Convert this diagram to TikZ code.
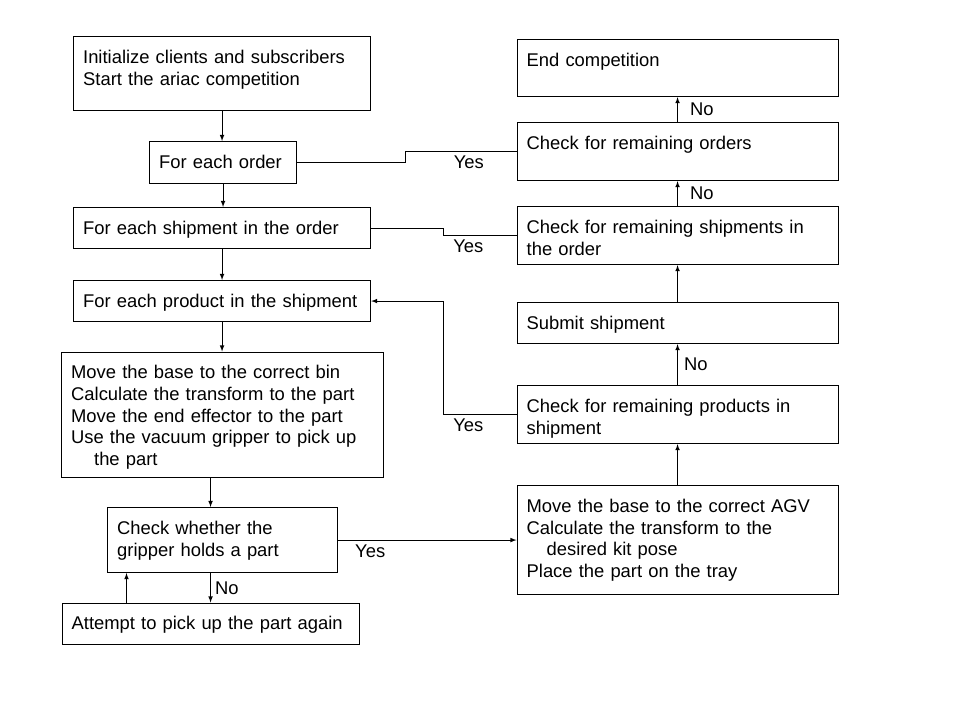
\documentclass[tikz,border=0pt]{standalone}
\usepackage{fontspec}
\setmainfont{Liberation Sans}
\hyphenpenalty=10000
\begin{document}
\begin{tikzpicture}[x=1pt,y=-1pt,line width=1.1pt,font=\fontsize{18.4}{21.7}\selectfont,
  box/.style 2 args={draw,anchor=north west,align=left,inner sep=9.6pt,text width=#1pt-19.2pt,text height=17.2pt,text depth=#2pt-36.4pt},
  lbl/.style={inner sep=4pt}]
\useasboundingbox(0,0)rectangle(960,720);
% left column
\node[box={297}{74}](init)at(73,36){Initialize clients and subscribers\\Start the ariac competition};
\node[box={147}{42}](order)at(149,141){For each order};
\node[box={297}{41}](shipment)at(73,207){For each shipment in the order};
\node[box={297}{41}](product)at(73,280){For each product in the shipment};
\node[box={322}{125.5}](pick)at(61,351.5){Move the base to the correct bin\\Calculate the transform to the part\\Move the end effector to the part\\Use the vacuum gripper to pick up\\\hspace*{23pt}the part};
\node[box={230}{65}](grip)at(107,507){Check whether the\\gripper holds a part};
\node[box={297}{41.5}](retry)at(61.5,602.5){Attempt to pick up the part again};
% right column
\node[box={321}{57}](finish)at(516.5,39){End competition};
\node[box={321}{58}](orderchk)at(516.5,122){Check for remaining orders};
\node[box={321}{58}](shipchk)at(516.5,206){Check for remaining shipments in\\the order};
\node[box={321}{41}](submit)at(516.5,302){Submit shipment};
\node[box={321}{58}](prodchk)at(516.5,385){Check for remaining products in\\shipment};
\node[box={321}{109}](place)at(516.5,485){Move the base to the correct AGV\\Calculate the transform to the\\\hspace*{20pt}desired kit pose\\Place the part on the tray};
% arrows down the left
\foreach \a/\b in {init/order,order/shipment,shipment/product,product/pick}{\draw[-latex](\a.south)--(\a.south|-\b.north);}
\draw[-latex]([xshift=-12pt]pick.south)--([xshift=-12pt]grip.north);
\draw[-latex]([xshift=-12pt]grip.south)--node[right,lbl]{No}(retry.north);
\draw[-latex]([xshift=65pt]retry.north west)--([xshift=65pt]retry.north west|-grip.south);
\draw[-latex](grip.east)--node[below,lbl,pos=.18]{Yes}(place.west);
% arrows up the right
\foreach \a/\b in {place/prodchk,submit/shipchk}{\draw[-latex](\a.north)--(\b.south);}
\foreach \a/\b/\s in {prodchk/submit/2,shipchk/orderchk/8,orderchk/finish/8}{\draw[-latex](\a.north)--node[right,lbl,xshift=\s pt]{No}(\b.south);}
% loops back
\draw(orderchk.west)--node[below,lbl,pos=.43]{Yes}++(-111,0)|-(order.east);
\draw(shipchk.west)--node[below,lbl,pos=.66]{Yes}++(-73,0)|-(shipment.east);
\draw[-latex](prodchk.west)--node[below,lbl,pos=.66]{Yes}++(-73,0)|-(product.east);
\end{tikzpicture}
\end{document}
